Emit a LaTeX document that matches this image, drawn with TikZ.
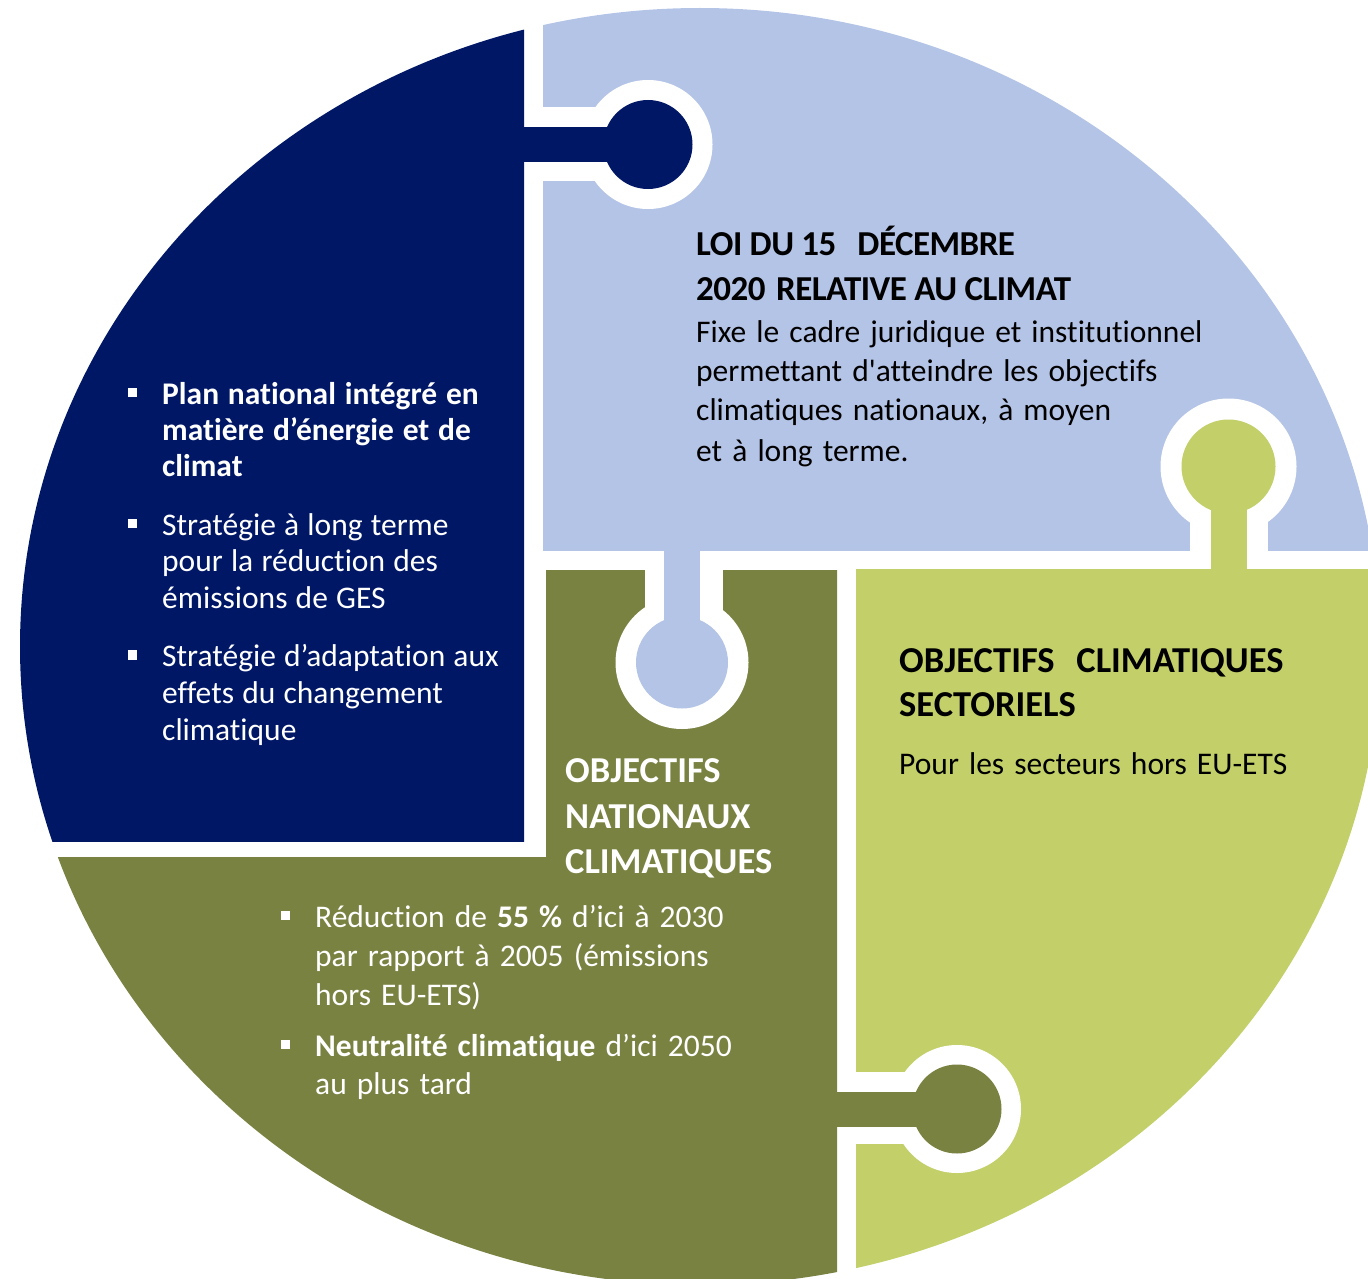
\documentclass[tikz,border=0pt]{standalone}
\usepackage{fontspec}
\setmainfont{Carlito}[Ligatures={TeX,NoCommon}]
\definecolor{navy}{RGB}{0,23,102}
\definecolor{lblue}{RGB}{180,196,231}
\definecolor{olivep}{RGB}{122,130,66}
\definecolor{lgreen}{RGB}{195,207,104}
\newcommand{\blt}{\llap{\rule[7pt]{9.5pt}{9.5pt}\hspace{25pt}}}
\newcommand{\bodyfnt}{\fontsize{31.5}{37}\selectfont\spaceskip 0.32em\relax}
\newcommand{\bodynfnt}{\fontsize{31.5}{37}\selectfont\spaceskip 0.26em\relax}
\newcommand{\bodybfnt}{\fontsize{31.5}{37}\selectfont\bfseries\spaceskip 0.28em\relax}
\newcommand{\headfnt}{\fontsize{36.5}{42}\selectfont\bfseries\spaceskip 0.3em\relax}
\newcommand{\headcfnt}{\fontsize{35}{42}\selectfont\bfseries\addfontfeature{LetterSpace=-1.5}}
\tikzset{
  body/.style={anchor=base west, inner sep=0pt, font=\bodyfnt},
  bodyn/.style={anchor=base west, inner sep=0pt, font=\bodynfnt},
  bodyb/.style={anchor=base west, inner sep=0pt, font=\bodybfnt},
  head/.style={anchor=base west, inner sep=0pt, font=\headfnt},
  headc/.style={anchor=base west, inner sep=0pt, font=\headcfnt},
}
\begin{document}
\begin{tikzpicture}[x=1pt,y=-1pt]
\useasboundingbox (0,0) rectangle (1368,1279);
\clip (0,0) rectangle (1368,1279);
% pieces
\begin{scope}
  \clip (-10,-10) rectangle (524,841);
  \fill[navy] (700,646.5) ellipse [x radius=680pt, y radius=638.5pt];
\end{scope}
\begin{scope}
  \clip (543,-10) rectangle (1400,550);
  \fill[lblue] (700,646.5) ellipse [x radius=680pt, y radius=638.5pt];
\end{scope}
\begin{scope}
  \clip (546,570) -- (837,570) -- (837,1300) -- (-10,1300) -- (-10,857) -- (546,857) -- cycle;
  \fill[olivep] (700,646.5) ellipse [x radius=680pt, y radius=638.5pt];
\end{scope}
\begin{scope}
  \clip (856,569) rectangle (1400,1300);
  \fill[lgreen] (700,646.5) ellipse [x radius=680pt, y radius=638.5pt];
\end{scope}
% halos
\fill[white] (648,144.5) circle [radius=64.5pt];
\fill[white] (530,107) rectangle (648,181);
\fill[white] (682,662.5) circle [radius=66.5pt];
\fill[white] (645,560) rectangle (723,662.5);
\fill[white] (1228.5,466.5) circle [radius=68pt];
\fill[white] (1190,560) rectangle (1268,466.5);
\fill[white] (957,1109) circle [radius=64pt];
\fill[white] (846,1071.5) rectangle (957,1143.5);
% tabs
\fill[navy] (648,144.5) circle [radius=44.5pt];
\fill[navy] (520,127.5) rectangle (648,162.5);
\fill[lblue] (682,662.5) circle [radius=46pt];
\fill[lblue] (664,545) rectangle (700,662.5);
\fill[lgreen] (1228.5,466.5) circle [radius=47pt];
\fill[lgreen] (1211,575) rectangle (1247,466.5);
\fill[olivep] (957,1109) circle [radius=44.5pt];
\fill[olivep] (830,1091.5) rectangle (957,1126.5);
% navy text
\begin{scope}[text=white]
\node[bodyb] (na1) at (162,404) {\blt Plan national intégré en};
\node[bodyb] (na2) at (162,440) {matière d’énergie et de};
\node[bodyb] (na3) at (162,476) {climat};
\node[bodyn] (nb1) at (162,535) {\blt Stratégie à long terme};
\node[bodyn] (nb2) at (162,571.5) {pour la réduction des};
\node[bodyn] (nb3) at (162,608) {émissions de GES};
\node[bodyn] (nc1) at (162,666.5) {\blt Stratégie d’adaptation aux};
\node[bodyn] (nc2) at (162,703) {effets du changement};
\node[bodyn] (nc3) at (162,740) {climatique};
\end{scope}
% light blue text
\node[headc] (la1) at (696,255) {LOI DU 15\hspace{0.6em}DÉCEMBRE};
\node[headc] (la2) at (696,300) {2020\hspace{0.3em}RELATIVE AU CLIMAT};
\node[body] (lb1) at (696,342) {Fixe le cadre juridique et institutionnel};
\node[body] (lb2) at (696,381.5) {permettant d\textquotesingle atteindre les objectifs};
\node[body] (lb3) at (696,420.5) {climatiques nationaux, à moyen};
\node[body] (lb4) at (696,461) {et à long terme.};
% olive text
\begin{scope}[text=white]
\node[head] (oa1) at (565,782) {OBJECTIFS};
\node[head] (oa2) at (565,828) {NATIONAUX};
\node[head] (oa3) at (565,873) {CLIMATIQUES};
\node[body] (ob1) at (315,927) {\blt Réduction de \textbf{55 \%} d’ici à 2030};
\node[body] (ob2) at (315,966) {par rapport à 2005 (émissions};
\node[body] (ob3) at (315,1005) {hors EU-ETS)};
\node[body] (oc1) at (315,1056) {\blt \textbf{Neutralité climatique} d’ici 2050};
\node[body] (oc2) at (315,1094) {au plus tard};
\end{scope}
% green text
\node[head] (ga1) at (899,672) {OBJECTIFS\hspace{0.3em} CLIMATIQUES};
\node[head] (ga2) at (899,716.5) {SECTORIELS};
\node[body] (gb1) at (899,774.5) {Pour les secteurs hors EU-ETS};
\end{tikzpicture}
\end{document}
